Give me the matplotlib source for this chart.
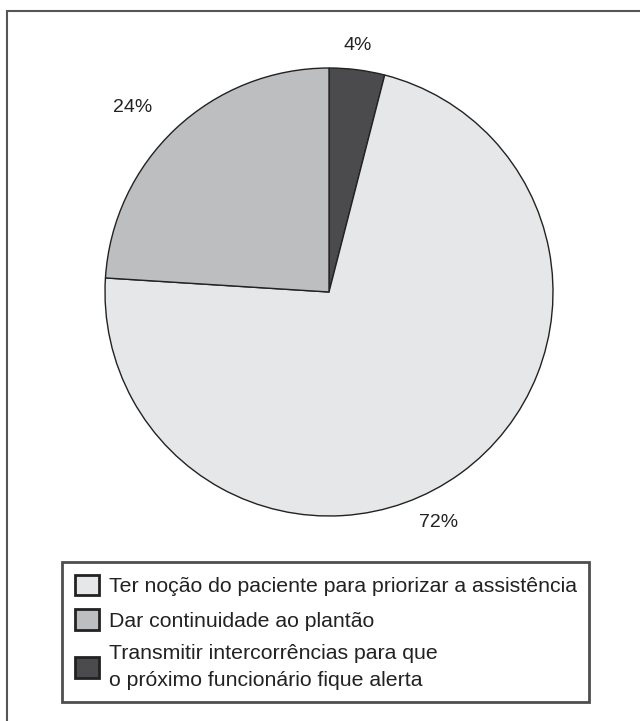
import matplotlib.pyplot as plt
from matplotlib.patches import Patch, Rectangle
import numpy as np

plt.rcParams['font.family'] = ['Liberation Sans', 'DejaVu Sans']

labels = ["Ter noção do paciente para priorizar a assistência",
          "Dar continuidade ao plantão",
          "Transmitir intercorrências para que\no próximo funcionário fique alerta"]
values = [72, 24, 4]
colors = ["#e6e7e8", "#bcbec0", "#4b4b4d"]

# pie is drawn clockwise from the top, starting with the small slice
order = [2, 0, 1]
pie_vals = [values[i] for i in order]
pie_cols = [colors[i] for i in order]

# label placement (angle in degrees, distance in radii), same order as values
lab_ang = [-64.7, 136.8, 83.3]
lab_dist = [1.14, 1.20, 1.11]

W, H = 640, 721
fig = plt.figure(figsize=(W / 100, H / 100), dpi=100)

# outer frame (only top/left edges fall inside the picture)
fig.add_artist(Rectangle((7 / W, -0.1), 1.2, (H - 11) / H + 0.1,
                         transform=fig.transFigure, fill=False,
                         edgecolor="#555555", linewidth=1.5))

cx, cy, r = 329, 292, 224
ax = fig.add_axes([(cx - r) / W, (H - cy - r) / H, 2 * r / W, 2 * r / H])
ax.pie(pie_vals, colors=pie_cols, startangle=90, counterclock=False,
       wedgeprops=dict(edgecolor="#222222", linewidth=1.0))
ax.set_xlim(-1, 1)
ax.set_ylim(-1, 1)
ax.set_aspect("equal")

for v, a, d in zip(values, lab_ang, lab_dist):
    t = np.deg2rad(a)
    ax.text(d * np.cos(t), d * np.sin(t), "{}%".format(v), ha="center",
            va="center", fontsize=14, color="#222222", clip_on=False)

handles = [Patch(facecolor=c, edgecolor="#222222", linewidth=2) for c in colors]
leg = fig.legend(handles, labels, loc="upper left",
                 bbox_to_anchor=(62 / W, 1 - 562 / H), borderaxespad=0,
                 fontsize=15.3, frameon=True, fancybox=False,
                 handlelength=1.12, handleheight=1.12, handletextpad=0.47,
                 labelspacing=0.62, borderpad=0.6)
leg.get_frame().set_edgecolor("#222222")
leg.get_frame().set_linewidth(2)
for t in leg.get_texts():
    t.set_color("#222222")
    t.set_linespacing(1.5)

fig.savefig("out.png", dpi=100, facecolor="white")
